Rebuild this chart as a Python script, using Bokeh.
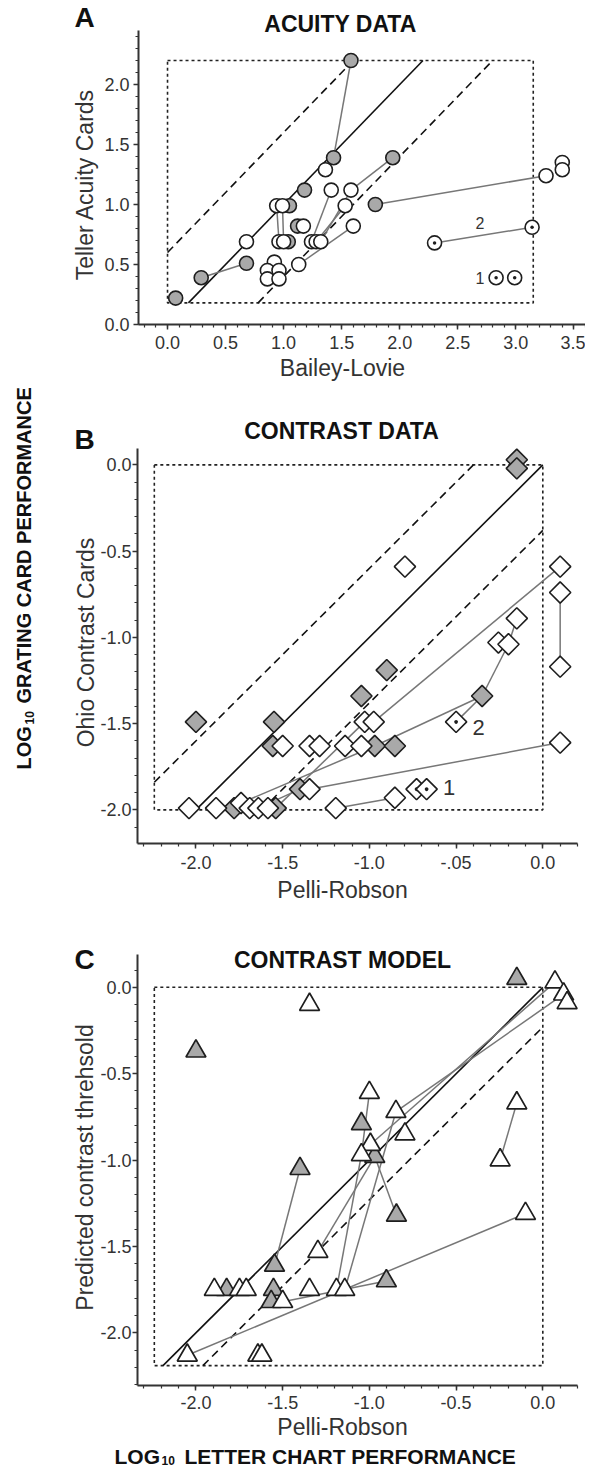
import numpy as np
from bokeh.plotting import figure
from bokeh.layouts import column
from bokeh.models import Label, FixedTicker, Range1d, PrintfTickFormatter
from bokeh.embed import file_html
from bokeh.resources import INLINE

FONT = "Liberation Sans"
GRAY = "#a9a9a9"
EDGE = "#1e1e1e"
LINK = "#777777"

# ---------------- Panel A : acuity data ----------------
A_white_x = [1.36, 1.41, 1.58, 0.94, 0.99, 1.53, 1.17, 1.60, 0.68, 0.96, 1.00, 1.24, 1.28, 1.32,
             0.92, 1.13, 0.86, 0.96, 0.86, 0.96, 3.26, 3.40, 3.40]
A_white_y = [1.29, 1.12, 1.12, 0.99, 0.99, 0.99, 0.82, 0.82, 0.69, 0.69, 0.69, 0.69, 0.69, 0.69,
             0.52, 0.50, 0.45, 0.45, 0.38, 0.38, 1.24, 1.35, 1.29]
A_gray_x = [1.58, 1.43, 1.94, 1.18, 1.05, 1.79, 1.12, 1.04, 0.68, 0.29, 0.07]
A_gray_y = [2.20, 1.39, 1.39, 1.12, 0.99, 1.00, 0.82, 0.69, 0.51, 0.39, 0.22]
A_dot_x = [2.30, 3.14, 2.83, 2.99]
A_dot_y = [0.68, 0.81, 0.39, 0.39]
A_link_x0 = [1.43, 1.94, 1.79, 0.29, 0.94, 0.99, 1.41, 1.53, 1.58, 1.60, 2.30]
A_link_y0 = [1.39, 1.39, 1.00, 0.39, 0.99, 0.99, 1.12, 0.99, 1.12, 0.82, 0.68]
A_link_x1 = [1.58, 1.58, 3.26, 0.68, 0.96, 1.00, 1.24, 1.28, 1.32, 1.13, 3.14]
A_link_y1 = [2.20, 1.12, 1.24, 0.51, 0.69, 0.69, 0.69, 0.69, 0.69, 0.50, 0.81]
A_box = [0.0, 3.15, 0.18, 2.20]          # x0, x1, y0, y1 of dotted limits
A_bands = [0.6, -0.6]                    # dashed offsets from identity
A_xticks = [0.0, 0.5, 1.0, 1.5, 2.0, 2.5, 3.0, 3.5]
A_yticks = [0.0, 0.5, 1.0, 1.5, 2.0]
A_notes = ["2", "1"]
A_note_x = [2.69, 2.69]
A_note_y = [0.85, 0.39]

# ---------------- Panel B : contrast data ----------------
B_white_x = [-0.795, 0.10, 0.10, 0.10, -0.15, -0.256, -0.198, -1.027, -0.975, -1.50, -1.345, -1.287,
             -1.14, -1.046, -1.345, 0.10, -0.853, -1.194, -2.04, -1.884, -1.74, -1.69, -1.64, -1.585]
B_white_y = [-0.59, -0.59, -0.74, -1.17, -0.89, -1.03, -1.04, -1.49, -1.49, -1.63, -1.63, -1.63,
             -1.63, -1.63, -1.88, -1.61, -1.93, -1.99, -1.99, -1.99, -1.96, -1.99, -1.99, -1.99]
B_gray_x = [-2.00, -1.55, -1.046, -0.35, -1.557, -0.969, -0.853, -1.40, -1.78, -1.54, -0.15, -0.15, -0.90]
B_gray_y = [-1.49, -1.49, -1.34, -1.34, -1.63, -1.63, -1.63, -1.88, -1.99, -1.99, 0.03, -0.02, -1.19]
B_dot_x = [-0.50, -0.728, -0.67]
B_dot_y = [-1.49, -1.88, -1.88]
B_link_x0 = [-1.74, -0.969, -1.345, -1.194, -0.975, -0.198, -0.15, 0.10, -0.35, -1.54, -1.64]
B_link_y0 = [-1.96, -1.63, -1.88, -1.99, -1.49, -1.04, -0.89, -0.74, -1.34, -1.99, -1.99]
B_link_x1 = [-0.969, -0.35, 0.10, -0.853, 0.10, -0.35, -0.198, 0.10, -0.50, -1.027, -1.40]
B_link_y1 = [-1.63, -1.34, -1.61, -1.93, -0.59, -1.34, -1.04, -1.17, -1.49, -1.49, -1.88]
B_box = [-2.24, 0.0, -2.0, 0.0]
B_bands = [0.40, -0.38]
B_xticks = [-2.0, -1.5, -1.0, -0.5, 0.0]
B_yticks = [-2.0, -1.5, -1.0, -0.5, 0.0]
B_notes = ["2", "1"]
B_note_x = [-0.37, -0.54]
B_note_y = [-1.525, -1.872]

# ---------------- Panel C : contrast model ----------------
C_white_x = [-1.345, -1.00, -0.847, -0.795, -0.994, -1.046, -0.246, -0.15, -1.297, -1.894, -1.749,
             -1.71, -1.345, -1.19, -1.142, -1.50, -2.05, -1.643, -1.62, 0.07, 0.12, 0.14, -0.10]
C_white_y = [-0.10, -0.61, -0.72, -0.85, -0.91, -0.97, -1.00, -0.67, -1.53, -1.75, -1.75,
             -1.75, -1.75, -1.75, -1.75, -1.82, -2.13, -2.13, -2.13, 0.03, -0.04, -0.09, -1.31]
C_gray_x = [-2.00, -1.046, -0.969, -1.40, -0.844, -1.547, -1.823, -1.553, -1.566, -0.902, -0.15]
C_gray_y = [-0.37, -0.79, -0.98, -1.05, -1.32, -1.61, -1.75, -1.75, -1.82, -1.70, 0.05]
C_link_x0 = [-1.40, -1.00, -1.19, -1.142, -1.297, -0.969, -0.994, -0.847, -0.246, -2.05, -1.50]
C_link_y0 = [-1.05, -0.61, -1.75, -1.75, -1.53, -0.98, -0.91, -0.72, -1.00, -2.13, -1.82]
C_link_x1 = [-1.547, -1.046, -1.046, -0.847, -0.969, -0.844, 0.07, 0.12, -0.15, -0.10, -0.902]
C_link_y1 = [-1.61, -0.97, -0.97, -0.72, -0.98, -1.32, 0.03, -0.04, -0.67, -1.31, -1.70]
C_box = [-2.24, 0.0, -2.19, 0.0]
C_bands = [-0.23]
C_xticks = [-2.0, -1.5, -1.0, -0.5, 0.0]
C_yticks = [-2.0, -1.5, -1.0, -0.5, 0.0]


# ---------------- helpers ----------------
class Panel:
    """Figure whose frame fills the canvas; axes are pinned at the data box edges."""

    def __init__(self, top0, height, frame, xr, yr):
        self.top0, self.height, self.frame, self.xr, self.yr = top0, height, frame, xr, yr
        left, right, top, bottom = frame
        sx = (right - left) / (xr[1] - xr[0])
        sy = (bottom - top) / (yr[1] - yr[0])
        X0 = xr[0] - (left - 8) / sx
        X1 = xr[1] + (593 - right) / sx
        Y1 = yr[1] + (top - top0) / sy
        Y0 = yr[0] - (top0 + height - bottom) / sy
        p = figure(width=585, height=height, x_range=Range1d(X0, X1), y_range=Range1d(Y0, Y1),
                   min_border=0, min_border_left=0, min_border_right=0, min_border_top=0,
                   min_border_bottom=0, toolbar_location=None, tools="", output_backend="svg")
        p.xgrid.visible = False
        p.ygrid.visible = False
        p.outline_line_color = None
        p.background_fill_color = "white"
        p.border_fill_color = "white"
        p.xaxis.fixed_location = yr[0]
        p.yaxis.fixed_location = xr[0]
        p.xaxis.bounds = xr
        p.yaxis.bounds = yr
        for ax in (p.xaxis[0], p.yaxis[0]):
            ax.axis_line_width = 2
            ax.axis_line_color = "#333333"
            ax.major_tick_out = 5
            ax.major_tick_in = 0
            ax.minor_tick_out = 3
            ax.minor_tick_in = 0
            ax.major_tick_line_width = 1.5
            ax.minor_tick_line_width = 1.2
            ax.major_tick_line_color = "#333333"
            ax.minor_tick_line_color = "#333333"
            ax.major_label_text_font = FONT
            ax.major_label_text_font_size = "18px"
            ax.major_label_text_color = "#333333"
            ax.formatter = PrintfTickFormatter(format="%.1f")
        self.p = p

    def ticks(self, xt, yt):
        xr, yr = self.xr, self.yr
        xminor = [round(v, 2) for v in np.arange(np.ceil(xr[0] * 10) / 10, xr[1] + 1e-9, 0.1)]
        yminor = [round(v, 2) for v in np.arange(np.ceil(yr[0] * 10) / 10, yr[1] + 1e-9, 0.1)]
        self.p.xaxis.ticker = FixedTicker(ticks=xt, minor_ticks=xminor)
        self.p.yaxis.ticker = FixedTicker(ticks=yt, minor_ticks=yminor)

    def to_data(self, px, py):
        left, right, top, bottom = self.frame
        xr, yr = self.xr, self.yr
        x = xr[0] + (px - left) / (right - left) * (xr[1] - xr[0])
        y = yr[0] + (bottom - py) / (bottom - top) * (yr[1] - yr[0])
        return x, y

    def text_px(self, px, py, s, size, **kw):
        x, y = self.to_data(px, py)
        self.text(x, y, s, size, **kw)

    def text(self, x, y, s, size, bold=False, angle=0.0, align="center", baseline="middle",
             color="#111111"):
        self.p.add_layout(Label(x=x, y=y, text=s, text_font=FONT, text_font_size=f"{size}px",
                                text_font_style="bold" if bold else "normal", angle=angle,
                                text_align=align, text_baseline=baseline, text_color=color))

    def box_and_diagonals(self, box, bands):
        p = self.p
        x0, x1, y0, y1 = box
        p.line([x0, x1, x1, x0, x0], [y1, y1, y0, y0, y1], line_color="#222222",
               line_width=1.6, line_dash="3 3")
        s = max(x0, y0)
        e = min(x1, y1)
        p.line([s, e], [s, e], line_color="#111111", line_width=1.6)
        for off in bands:
            s = max(x0, y0 - off)
            e = min(x1, y1 - off)
            p.line([s, e], [s + off, e + off], line_color="#111111", line_width=1.6,
                   line_dash="8 5")

    def links(self, x0, y0, x1, y1):
        self.p.segment(x0=x0, y0=y0, x1=x1, y1=y1, line_color=LINK, line_width=1.5)


# ---------------- Figure A ----------------
A = Panel(8, 384, (146, 593, 38, 332), (-0.25, 3.6), (0.0, 2.45))
A.ticks(A_xticks, A_yticks)
A.p.yaxis.major_label_standoff = 4
A.p.xaxis.major_label_standoff = 6
A.box_and_diagonals(A_box, A_bands)
A.links(A_link_x0, A_link_y0, A_link_x1, A_link_y1)
A.p.scatter(A_gray_x, A_gray_y, marker="circle", size=14, fill_color=GRAY, line_color=EDGE, line_width=1.6)
A.p.scatter(A_white_x, A_white_y, marker="circle", size=14, fill_color="white", line_color=EDGE, line_width=1.6)
A.p.scatter(A_dot_x, A_dot_y, marker="circle_dot", size=14, fill_color="white", line_color=EDGE, line_width=1.6)
A.text_px(92, 25, "A", 28, bold=True)
A.text_px(348, 31, "ACUITY DATA", 23, bold=True)
A.text_px(92, 192, "Teller Acuity Cards", 23, angle=np.pi / 2, color="#333333")
A.text_px(350, 375, "Bailey-Lovie", 23, color="#333333")
for s, x, y in zip(A_notes, A_note_x, A_note_y):
    A.text(x, y, s, 16, color="#333333")

# ---------------- Figure B ----------------
B = Panel(392, 538, (145, 585, 456, 851), (-2.337, 0.2), (-2.195, 0.095))
B.ticks(B_xticks, B_yticks)
B.p.xaxis.major_label_overrides = {-0.5: "-.05"}
B.p.yaxis.major_label_standoff = 1
B.p.xaxis.major_label_standoff = 7
B.box_and_diagonals(B_box, B_bands)
B.links(B_link_x0, B_link_y0, B_link_x1, B_link_y1)
B.p.scatter(B_gray_x, B_gray_y, marker="square", angle=np.pi / 4, size=15, fill_color=GRAY,
            line_color=EDGE, line_width=1.6)
B.p.scatter(B_white_x, B_white_y, marker="square", angle=np.pi / 4, size=15, fill_color="white",
            line_color=EDGE, line_width=1.6)
B.p.scatter(B_dot_x, B_dot_y, marker="square_dot", angle=np.pi / 4, size=15, fill_color="white",
            line_color=EDGE, line_width=1.6)
B.text_px(92, 447, "B", 28, bold=True)
B.text_px(349, 438, "CONTRAST DATA", 23, bold=True)
B.text_px(93, 650, "Ohio Contrast Cards", 23, angle=np.pi / 2, color="#333333")
B.text_px(350, 897, "Pelli-Robson", 23, color="#333333")
for s, x, y in zip(B_notes, B_note_x, B_note_y):
    B.text(x, y, s, 22, color="#333333")
# shared rotated y title
B.text_px(31, 777, "LOG", 20, bold=True, angle=np.pi / 2, align="left")
B.text_px(37, 732, "10", 12, bold=True, angle=np.pi / 2, align="left")
B.text_px(31, 711, "GRATING CARD PERFORMANCE", 20, bold=True, angle=np.pi / 2, align="left")

# ---------------- Figure C ----------------
C = Panel(930, 546, (145, 585, 962, 1393), (-2.337, 0.2), (-2.305, 0.19))
C.ticks(C_xticks, C_yticks)
C.p.yaxis.major_label_standoff = 1
C.p.xaxis.major_label_standoff = 5
C.box_and_diagonals(C_box, C_bands)
C.links(C_link_x0, C_link_y0, C_link_x1, C_link_y1)
C.p.scatter(C_gray_x, C_gray_y, marker="triangle", size=20, fill_color=GRAY, line_color=EDGE, line_width=1.7)
C.p.scatter(C_white_x, C_white_y, marker="triangle", size=20, fill_color="white", line_color=EDGE, line_width=1.7)
C.text_px(92, 967, "C", 28, bold=True)
C.text_px(350, 967, "CONTRAST MODEL", 23, bold=True)
C.text_px(92, 1175, "Predicted contrast threhsold", 23, angle=np.pi / 2, color="#333333")
C.text_px(350, 1434, "Pelli-Robson", 23, color="#333333")
C.text_px(122, 1464, "LOG", 21, bold=True, align="left", baseline="alphabetic")
C.text_px(169, 1468, "10", 12, bold=True, align="left", baseline="alphabetic")
C.text_px(192, 1464, "LETTER CHART PERFORMANCE", 21, bold=True, align="left", baseline="alphabetic")

layout = column(A.p, B.p, C.p, spacing=0)
open("out.html", "w").write(file_html(layout, INLINE))
